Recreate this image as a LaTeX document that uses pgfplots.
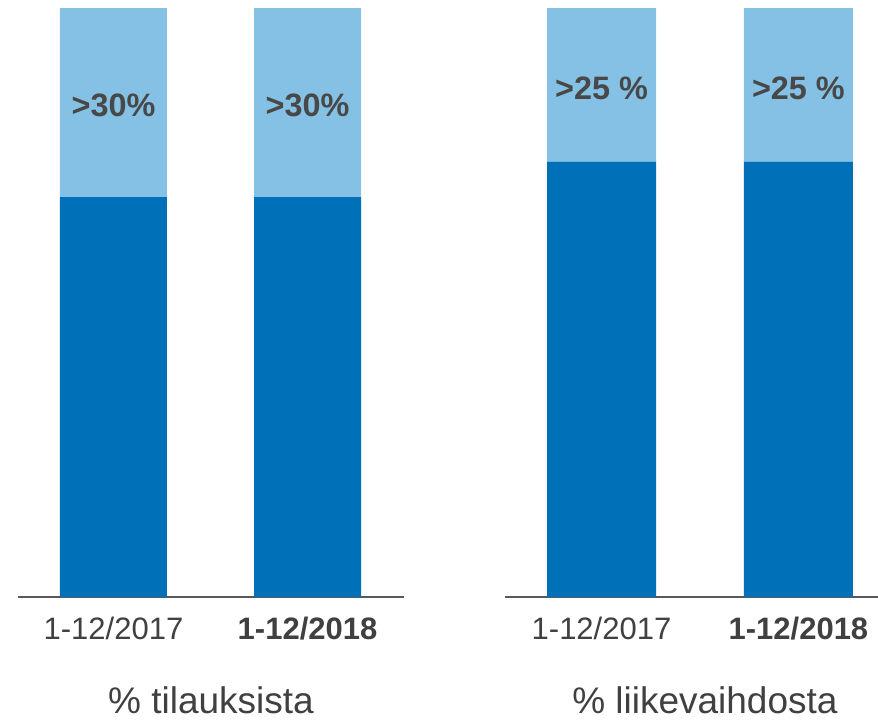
\documentclass[border=0pt]{standalone}
\usepackage{pgfplots}
\pgfplotsset{compat=1.18}
\usepackage{fontspec}
\setmainfont{Liberation Sans}

\definecolor{darkblue}{HTML}{0070B8}
\definecolor{lightblue}{HTML}{85C1E5}
\definecolor{txt}{HTML}{404040}
\definecolor{lbl}{HTML}{484848}
\definecolor{axisgray}{HTML}{595959}

\pgfplotsset{
  panel/.style={
    ybar stacked, scale only axis, height=294.5pt,
    ymin=0, ymax=100, anchor=south west, clip=false,
    axis x line=bottom, axis y line=none,
    x axis line style={-, axisgray, line width=0.8pt},
    xtick={0,1}, major tick length=0pt,
    xticklabels={1-12/2017, \textbf{1-12/2018}},
    xticklabel style={font=\fontsize{15.5}{18}\selectfont, text=txt, yshift=-6.5pt},
    xlabel style={font=\fontsize{18.5}{21}\selectfont, text=txt,
      anchor=center, yshift=-51.5pt},
  },
}
\tikzset{barlabel/.style={font=\bfseries\fontsize{16.2}{19}\selectfont, text=lbl}}

\begin{document}
\begin{tikzpicture}
\useasboundingbox (0,0) rectangle (439pt,-359.5pt);

% % tilauksista
\begin{axis}[panel, at={(9pt,-298.5pt)}, width=193pt,
    xmin=-0.492, xmax=1.497, bar width=53.5pt,
    xlabel={\% tilauksista},
    xlabel style={at={(axis description cs:0.5,0)}}]
  \addplot[fill=darkblue, draw=none] coordinates {(0,67.9) (1,67.9)};
  \addplot[fill=lightblue, draw=none] coordinates {(0,32.1) (1,32.1)};
  \coordinate (l0) at (axis cs:0,83.5);
  \coordinate (l1) at (axis cs:1,83.5);
\end{axis}

% % liikevaihdosta
\begin{axis}[panel, at={(252.5pt,-298.5pt)}, width=186.5pt,
    xmin=-0.49, xmax=1.404, bar width=54.5pt,
    xlabel={\% liikevaihdosta},
    xlabel style={at={(axis description cs:0.536,0)}}]
  \addplot[fill=darkblue, draw=none] coordinates {(0,73.9) (1,73.9)};
  \addplot[fill=lightblue, draw=none] coordinates {(0,26.1) (1,26.1)};
  \coordinate (r0) at (axis cs:0,86.4);
  \coordinate (r1) at (axis cs:1,86.4);
\end{axis}

\node[barlabel] at (l0) {>30\%};
\node[barlabel] at (l1) {>30\%};
\node[barlabel] at (r0) {>25 \%};
\node[barlabel] at (r1) {>25 \%};
\end{tikzpicture}
\end{document}
